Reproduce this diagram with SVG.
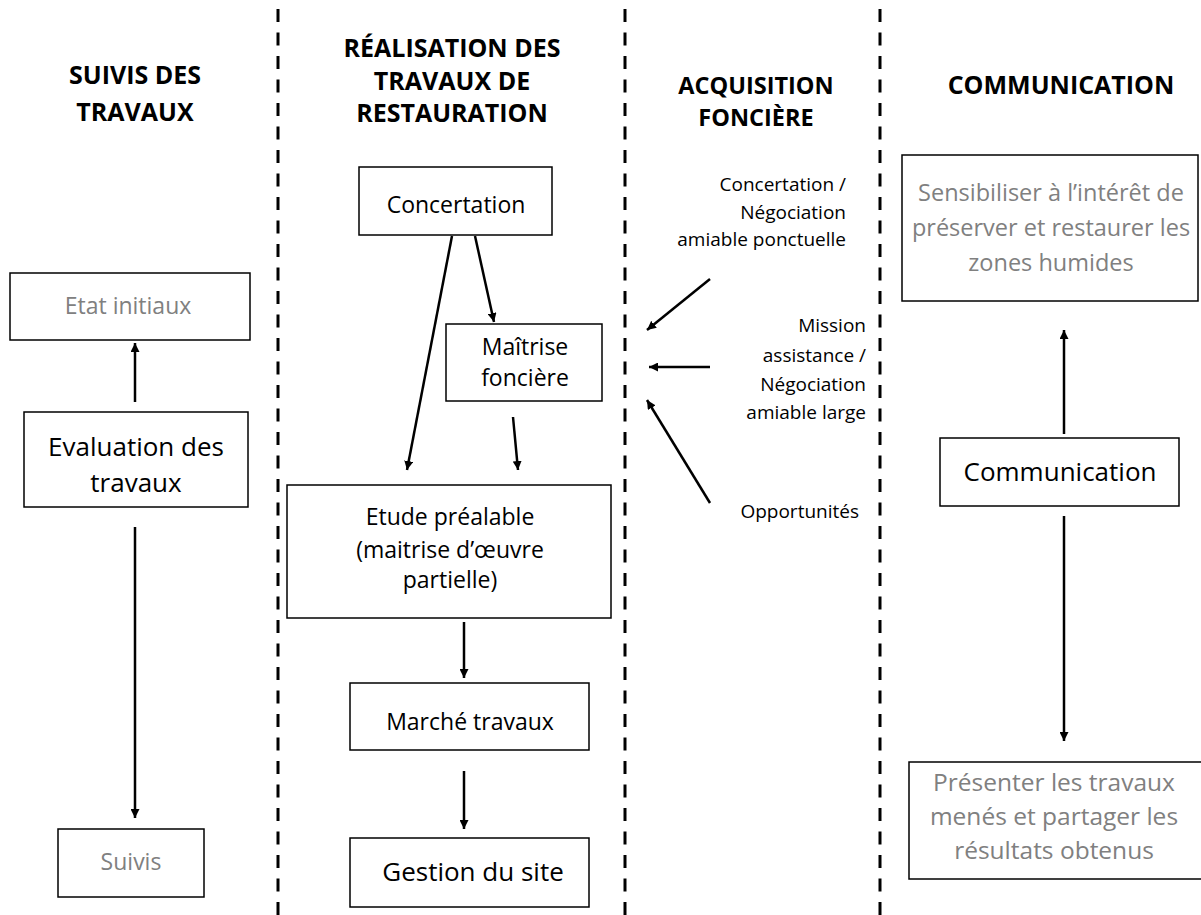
<svg xmlns="http://www.w3.org/2000/svg" width="1201" height="915" viewBox="0 0 1201 915">
<defs>
<marker id="ah" viewBox="0 0 10 10" refX="10" refY="5" markerWidth="9" markerHeight="9" markerUnits="userSpaceOnUse" orient="auto">
<path d="M0,0 L10,5 L0,10 z" fill="#000"/>
</marker>
</defs>
<style>
.sep{stroke:#000;stroke-width:3;stroke-dasharray:13 10.5;fill:none}
.box{fill:#fff;stroke:#000;stroke-width:1.5}
.hd{font-family:"Open Sans","Noto Sans",sans-serif;font-weight:bold;font-size:25px;fill:#000;text-anchor:middle}
.hs{font-size:23.5px}
.t{font-family:"Open Sans","Noto Sans",sans-serif;font-size:23px;fill:#000;text-anchor:middle}
.tm{font-size:23.5px}
.tb{font-size:24.5px}
.tl{font-family:"Open Sans","Noto Sans",sans-serif;font-size:26px;fill:#000;text-anchor:middle}
.g{fill:#808080}
.a{font-family:"Open Sans","Noto Sans",sans-serif;font-size:19px;fill:#000;text-anchor:end}
.c{stroke:#000;stroke-width:2.5;fill:none;marker-end:url(#ah)}
</style>
<rect width="1201" height="915" fill="#fff"/>
<g id="separators">
<line class="sep" x1="278" y1="9" x2="278" y2="915"/>
<line class="sep" x1="625" y1="9" x2="625" y2="915"/>
<line class="sep" x1="880" y1="9" x2="880" y2="915"/>
</g>
<g id="headers">
<text class="hd" x="135" y="84">SUIVIS DES</text>
<text class="hd" x="135" y="121">TRAVAUX</text>
<text class="hd" x="452" y="57">RÉALISATION DES</text>
<text class="hd" x="452" y="90">TRAVAUX DE</text>
<text class="hd" x="452" y="122">RESTAURATION</text>
<text class="hd hs" x="756" y="94">ACQUISITION</text>
<text class="hd hs" x="756" y="126">FONCIÈRE</text>
<text class="hd" x="1061" y="94">COMMUNICATION</text>
</g>
<g id="connectors">
<line class="c" x1="135" y1="402" x2="135" y2="343"/>
<line class="c" x1="135" y1="527" x2="135" y2="818"/>
<line class="c" x1="452" y1="236" x2="407" y2="470"/>
<line class="c" x1="475" y1="236" x2="494" y2="322"/>
<line class="c" x1="513" y1="417" x2="518" y2="470"/>
<line class="c" x1="464" y1="622" x2="464" y2="678"/>
<line class="c" x1="464" y1="771" x2="464" y2="829"/>
<line class="c" x1="710" y1="279" x2="647" y2="330"/>
<line class="c" x1="710" y1="367" x2="649" y2="367"/>
<line class="c" x1="710" y1="503" x2="647" y2="400"/>
<line class="c" x1="1064" y1="434" x2="1064" y2="330"/>
<line class="c" x1="1064" y1="516" x2="1064" y2="741"/>
</g>
<g id="etat-initiaux">
<rect class="box" x="10" y="273" width="240" height="67"/>
<text class="t g" x="128" y="314">Etat initiaux</text>
</g>
<g id="evaluation">
<rect class="box" x="24" y="412" width="224" height="95"/>
<text class="tl" x="136" y="456">Evaluation des</text>
<text class="tl" x="136" y="492">travaux</text>
</g>
<g id="suivis">
<rect class="box" x="58" y="829" width="146" height="68"/>
<text class="t g" x="131" y="870">Suivis</text>
</g>
<g id="concertation">
<rect class="box" x="359" y="167" width="193" height="68"/>
<text class="t" x="456" y="213">Concertation</text>
</g>
<g id="maitrise-fonciere">
<rect class="box" x="446" y="324" width="156" height="77"/>
<text class="t" x="525" y="355">Maîtrise</text>
<text class="t" x="525" y="386">foncière</text>
</g>
<g id="etude-prealable">
<rect class="box" x="287" y="485" width="324" height="133"/>
<text class="t" x="450" y="525">Etude préalable</text>
<text class="t" x="450" y="558">(maitrise d’œuvre</text>
<text class="t" x="450" y="588">partielle)</text>
</g>
<g id="marche-travaux">
<rect class="box" x="350" y="683" width="239" height="67"/>
<text class="t" x="470" y="730">Marché travaux</text>
</g>
<g id="gestion-site">
<rect class="box" x="350" y="838" width="239" height="69"/>
<text class="tl" x="473" y="881">Gestion du site</text>
</g>
<g id="acq-concertation">
<text class="a" x="846" y="191">Concertation /</text>
<text class="a" x="846" y="219">Négociation</text>
<text class="a" x="846" y="246">amiable ponctuelle</text>
</g>
<g id="acq-mission">
<text class="a" x="866" y="332">Mission</text>
<text class="a" x="866" y="362">assistance /</text>
<text class="a" x="866" y="391">Négociation</text>
<text class="a" x="866" y="419">amiable large</text>
</g>
<g id="acq-opportunites">
<text class="a" x="859" y="518">Opportunités</text>
</g>
<g id="sensibiliser">
<rect class="box" x="902" y="155" width="296" height="146"/>
<text class="t tm g" x="1051" y="201">Sensibiliser à l’intérêt de</text>
<text class="t tm g" x="1051" y="236">préserver et restaurer les</text>
<text class="t tm g" x="1051" y="271">zones humides</text>
</g>
<g id="communication">
<rect class="box" x="940" y="438" width="239" height="68"/>
<text class="tl" x="1060" y="481">Communication</text>
</g>
<g id="presenter">
<rect class="box" x="909" y="762" width="295" height="117"/>
<text class="t tb g" x="1054" y="791">Présenter les travaux</text>
<text class="t tb g" x="1054" y="825">menés et partager les</text>
<text class="t tb g" x="1054" y="859">résultats obtenus</text>
</g>
</svg>
